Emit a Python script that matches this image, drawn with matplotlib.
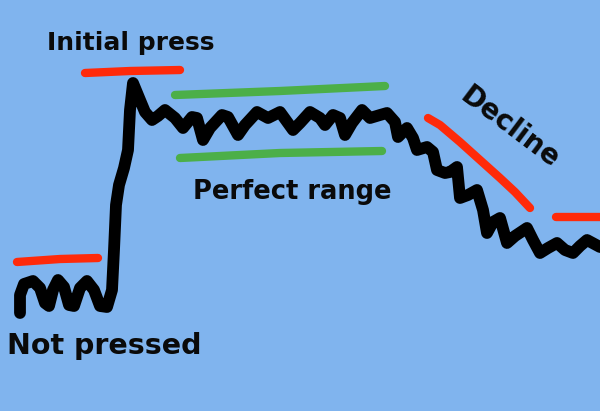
import matplotlib
matplotlib.use("Agg")
import matplotlib.pyplot as plt

# sketch traced in pixel space (x right, y down), 600 x 411
curve_x = [20, 20, 24, 33, 40, 45, 49, 53, 58, 64, 69, 74, 80, 87, 94, 100,
           107, 112, 114, 116, 119, 124, 128, 130, 133,
           140, 145, 152, 158, 165, 175, 183, 192, 197, 203, 210, 222, 228,
           238, 245, 257, 268, 280, 293, 300, 310, 320, 325, 333, 340, 345,
           352, 362, 370, 380, 387, 395, 398, 407, 413, 417, 427, 433, 437,
           445, 450, 457, 460, 468, 477, 483, 487, 493, 500, 507, 515, 527,
           533, 540, 548, 557, 565, 573, 580, 587, 600]
curve_y = [313, 295, 284, 281, 288, 303, 306, 290, 280, 287, 305, 306, 288, 281, 290, 306,
           307, 290, 250, 205, 185, 168, 150, 110, 83,
           100, 112, 120, 116, 110, 118, 128, 117, 118, 140, 128, 115, 117,
           135, 125, 112, 118, 112, 130, 123, 112, 118, 125, 115, 118, 135,
           123, 110, 118, 115, 113, 122, 137, 128, 138, 150, 147, 152, 170,
           173, 172, 167, 198, 195, 190, 210, 233, 222, 218, 243, 236, 228,
           240, 253, 248, 243, 250, 253, 246, 240, 247]

red_lines = [
    ([85, 130, 180], [73, 71, 70]),
    ([17, 60, 98], [262, 259, 258]),
    ([428, 440, 460, 480, 500, 515, 530], [118, 125, 142, 160, 178, 192, 208]),
    ([556, 600], [217, 217]),
]
green_lines = [
    ([175, 280, 385], [95, 91, 86]),
    ([180, 280, 382], [158, 153, 151]),
]

labels = [
    ("Initial press", 131, 43, 0, 18),
    ("Perfect range", 292, 192, 0, 18.5),
    ("Not pressed", 104, 346, 0, 20.5),
    ("Decline", 510, 128, -37, 20),
]

fig = plt.figure(figsize=(6, 4.11), dpi=100)
bg = "#80b4ee"
fig.patch.set_facecolor(bg)
ax = fig.add_axes([0, 0, 1, 1])
ax.set_facecolor(bg)
ax.set_xlim(0, 600)
ax.set_ylim(411, 0)
ax.axis("off")

for xs, ys in red_lines:
    ax.plot(xs, ys, color="#ff2a0a", lw=6, solid_capstyle="round")
for xs, ys in green_lines:
    ax.plot(xs, ys, color="#4caf48", lw=6, solid_capstyle="round")

ax.plot(curve_x, curve_y, color="black", lw=8.5,
        solid_capstyle="round", solid_joinstyle="round")

for text, x, y, rot, size in labels:
    ax.text(x, y, text, ha="center", va="center", rotation=rot,
            fontsize=size, fontweight="bold", family="DejaVu Sans", color="#0a0a0a")

fig.savefig("out.png", dpi=100, facecolor=bg)
